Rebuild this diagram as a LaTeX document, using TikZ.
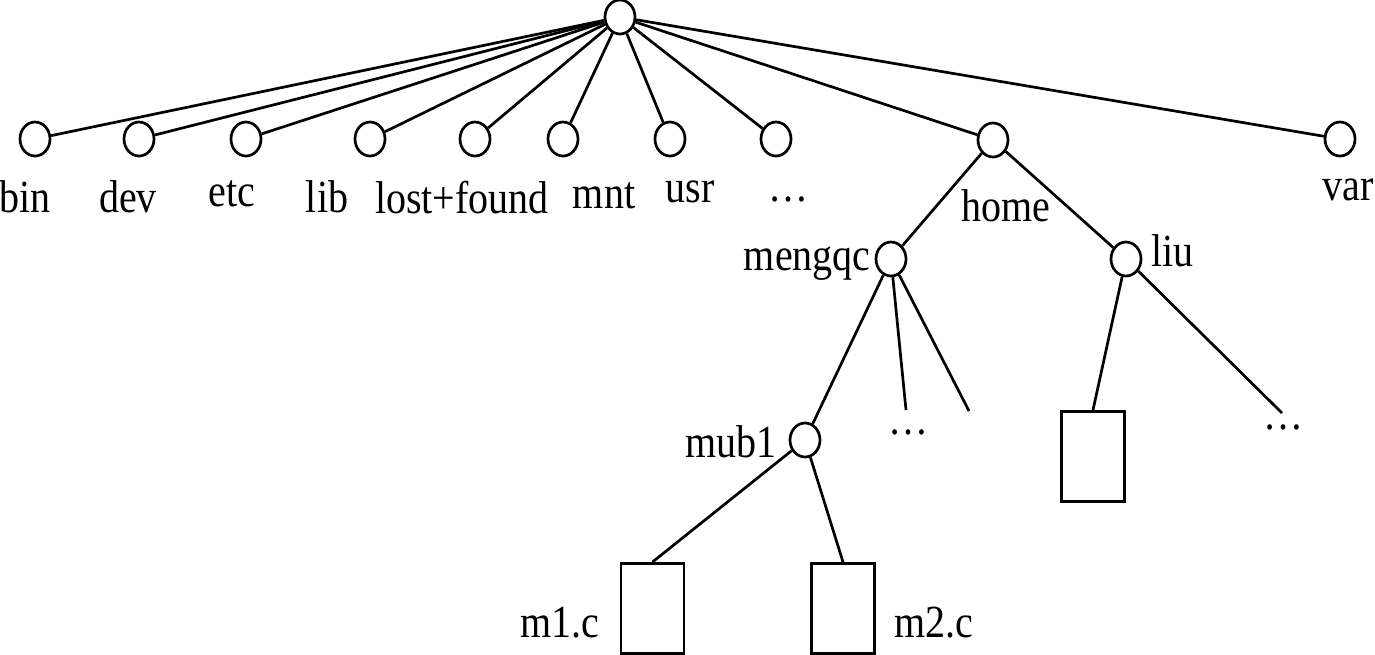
\documentclass[tikz,border=0pt]{standalone}
\usepackage{fontspec}
\setmainfont{Liberation Serif}
\usetikzlibrary{shapes.geometric}
\newcommand\vstretch[1]{\scalebox{1}[1.15]{#1}}
\tikzset{
  dirnode/.style={ellipse,draw,line width=1.35pt,minimum width=15pt,minimum height=17pt,inner sep=0pt},
  filebox/.style={rectangle,draw,line width=1.35pt,minimum width=31.5pt,minimum height=45pt,inner sep=0pt,anchor=north},
  lbl/.style={inner sep=0pt,font=\fontsize{20}{24}\selectfont},
  edge/.style={line width=1.35pt}
}
\begin{document}
\begin{tikzpicture}[x=0.5pt,y=-0.5pt]
\useasboundingbox (0,0) rectangle (1375,654);
% directory nodes
\node[dirnode] (root) at (620,17) {};
\node[dirnode] (bin) at (35,139) {};
\node[dirnode] (dev) at (139,139) {};
\node[dirnode] (etc) at (246,139) {};
\node[dirnode] (lib) at (370,139) {};
\node[dirnode] (lost) at (475,139) {};
\node[dirnode] (mnt) at (563,139) {};
\node[dirnode] (usr) at (670,139) {};
\node[dirnode] (more) at (776,139) {};
\node[dirnode] (home) at (993,140) {};
\node[dirnode] (var) at (1340,139) {};
\node[dirnode] (mengqc) at (891,259) {};
\node[dirnode] (liu) at (1126,259) {};
\node[dirnode] (mub1) at (805,440) {};
% files
\node[filebox] (fliu) at (1093,410) {};
\node[filebox] (m1) at (652.5,562) {};
\node[filebox] (m2) at (843,562) {};
% free ends
\coordinate (e1) at (906,410);
\coordinate (e2) at (969,411);
\coordinate (e3) at (1282,413);
% labels
\node[lbl,anchor=base] (tbin) at (25,212) {\vstretch{bin}};
\node[lbl,anchor=base] (tdev) at (128,212) {\vstretch{dev}};
\node[lbl,anchor=base] (tetc) at (232,206) {\vstretch{etc}};
\node[lbl,anchor=base] (tlib) at (327,212) {\vstretch{lib}};
\node[lbl,anchor=base] (tlost) at (462,213) {\vstretch{lost+found}};
\node[lbl,anchor=base] (tmnt) at (604,208) {\vstretch{mnt}};
\node[lbl,anchor=base] (tusr) at (690,202) {\vstretch{usr}};
\node[lbl,anchor=base] (tmore) at (788,201) {\vstretch{…}};
\node[lbl,anchor=base] (thome) at (1006,221) {\vstretch{home}};
\node[lbl,anchor=base] (tvar) at (1348,200) {\vstretch{var}};
\node[lbl,anchor=base east] (tmengqc) at (871,270) {\vstretch{mengqc}};
\node[lbl,anchor=base west] (tliu) at (1151,266) {\vstretch{liu}};
\node[lbl,anchor=base east] (tmub1) at (777,457) {\vstretch{mub1}};
\node[lbl,anchor=base] (tm1) at (560,637) {\vstretch{m1.c}};
\node[lbl,anchor=base] (tm2) at (934,637) {\vstretch{m2.c}};
\node[lbl,anchor=base] (tdots1) at (908,434) {\vstretch{…}};
\node[lbl,anchor=base] (tdots2) at (1283,429) {\vstretch{…}};
% connectors
\foreach \c in {bin,dev,etc,lib,lost,mnt,usr,more,home,var}
  \draw[edge] (root) -- (\c);
\draw[edge] (home) -- (mengqc);
\draw[edge] (home) -- (liu);
\draw[edge] (mengqc) -- (mub1);
\draw[edge] (mengqc) -- (e1);
\draw[edge] (mengqc) -- (e2);
\draw[edge] (liu) -- (fliu.north);
\draw[edge] (liu) -- (e3);
\draw[edge] (mub1) -- (m1.north);
\draw[edge] (mub1) -- (m2.north);
\end{tikzpicture}
\end{document}
